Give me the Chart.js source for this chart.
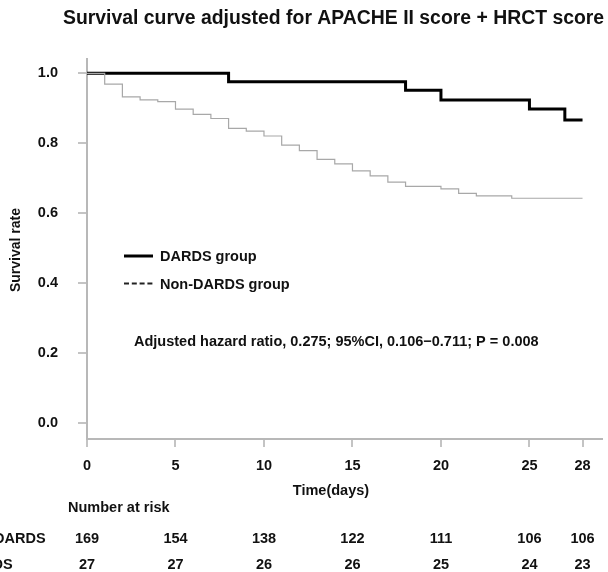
<!DOCTYPE html>
<html>
<head>
<meta charset="utf-8">
<script src="https://cdn.jsdelivr.net/npm/chart.js@4.4.1/dist/chart.umd.min.js"></script>
<style>
  html, body { margin: 0; padding: 0; background: #fff; }
  #wrap { width: 608px; height: 572px; }
</style>
</head>
<body>
<div id="wrap"><canvas id="km"></canvas></div>
<script>
// Kaplan-Meier steps
const dardsDays = [0, 8, 18, 20, 25, 27, 28];
const dardsSurv = [1.0, 0.976, 0.952, 0.924, 0.898, 0.867, 0.867];

const nonDays = [0, 1, 2, 3, 4, 5, 6, 7, 8, 9, 10, 11, 12, 13, 14, 15, 16, 17, 18, 20, 21, 22, 24, 28];
const nonSurv = [1.0, 0.969, 0.933, 0.924, 0.919, 0.898, 0.883, 0.871, 0.843, 0.835, 0.821, 0.795,
  0.779, 0.754, 0.741, 0.721, 0.707, 0.689, 0.677, 0.670, 0.657, 0.650, 0.643, 0.643];

const xTicks = [0, 5, 10, 15, 20, 25, 28];
const yTicks = [0, 0.2, 0.4, 0.6, 0.8, 1.0];

// number at risk table
const riskDays = [0, 5, 10, 15, 20, 25, 28];
const riskNon = [169, 154, 138, 122, 111, 106, 106];
const riskDards = [27, 27, 26, 26, 25, 24, 23];

const FONT = '"Liberation Sans", Arial, sans-serif';
const bold = (px) => 'bold ' + px + 'px ' + FONT;

const toPoints = (xs, ys) => xs.map((x, i) => ({ x: x, y: ys[i] }));

const extras = {
  id: 'extras',
  afterDraw(chart) {
    const { ctx, chartArea } = chart;
    const xs = chart.scales.x;
    ctx.save();
    ctx.fillStyle = '#111';
    ctx.textBaseline = 'alphabetic';

    // title
    ctx.font = bold(19.4);
    ctx.textAlign = 'left';
    ctx.fillText('Survival curve adjusted for APACHE II score + HRCT score', 63, 23.5);

    // y axis title
    ctx.save();
    ctx.translate(20, 250);
    ctx.rotate(-Math.PI / 2);
    ctx.textAlign = 'center';
    ctx.font = bold(14);
    ctx.fillText('Survival rate', 0, 0);
    ctx.restore();

    // x axis title
    ctx.font = bold(14.5);
    ctx.textAlign = 'center';
    ctx.fillText('Time(days)', 331, 495);

    // legend
    const lx = chartArea.left + 37;
    ctx.strokeStyle = '#000';
    ctx.lineWidth = 3;
    ctx.beginPath();
    ctx.moveTo(lx, 256);
    ctx.lineTo(lx + 29, 256);
    ctx.stroke();
    ctx.lineWidth = 2;
    ctx.strokeStyle = '#222';
    ctx.setLineDash([5, 2.8]);
    ctx.beginPath();
    ctx.moveTo(lx, 283.5);
    ctx.lineTo(lx + 29, 283.5);
    ctx.stroke();
    ctx.setLineDash([]);
    ctx.textAlign = 'left';
    ctx.fillText('DARDS group', 160, 261.2);
    ctx.fillText('Non-DARDS group', 160, 288.5);

    // hazard ratio note
    ctx.fillText('Adjusted hazard ratio, 0.275; 95%CI, 0.106\u22120.711; P = 0.008', 134, 346);

    // number at risk
    ctx.fillText('Number at risk', 68, 512.2);
    ctx.fillText('Non-DARDS', -39, 542.5);
    ctx.fillText('DARDS', -39, 568.5);
    ctx.textAlign = 'center';
    riskDays.forEach((d, i) => {
      const px = xs.getPixelForValue(d);
      ctx.fillText(String(riskNon[i]), px, 542.5);
      ctx.fillText(String(riskDards[i]), px, 568.5);
    });
    ctx.restore();
  },
};

new Chart(document.getElementById('km'), {
  type: 'line',
  data: {
    datasets: [
      {
        label: 'Non-DARDS group',
        data: toPoints(nonDays, nonSurv),
        borderColor: '#a8a8a8',
        borderWidth: 1.2,
        stepped: true,
        pointRadius: 0,
      },
      {
        label: 'DARDS group',
        data: toPoints(dardsDays, dardsSurv),
        borderColor: '#000',
        borderWidth: 3,
        stepped: true,
        pointRadius: 0,
      },
    ],
  },
  options: {
    responsive: true,
    maintainAspectRatio: false,
    animation: false,
    layout: { padding: { left: 0, right: 6, top: 59, bottom: 0 } },
    plugins: {
      legend: { display: false },
      title: { display: false },
      tooltip: { enabled: false },
    },
    scales: {
      x: {
        type: 'linear',
        min: 0,
        max: 29.1,
        afterBuildTicks: (scale) => {
          scale.ticks = xTicks.map((v) => ({ value: v }));
        },
        afterFit: (scale) => {
          scale.height = 133;
        },
        grid: {
          drawOnChartArea: false,
          drawTicks: true,
          tickLength: 8,
          color: '#c4c4c4',
          lineWidth: 2,
        },
        border: { color: '#b8b8b8', width: 2 },
        ticks: {
          color: '#111',
          font: { family: FONT, size: 14.5, weight: 'bold' },
          padding: 10,
          maxRotation: 0,
          autoSkip: false,
        },
      },
      y: {
        min: -0.045,
        max: 1.041,
        afterBuildTicks: (scale) => {
          scale.ticks = yTicks.map((v) => ({ value: v }));
        },
        afterFit: (scale) => {
          scale.width = 87;
        },
        grid: {
          drawOnChartArea: false,
          drawTicks: true,
          tickLength: 9,
          color: '#c4c4c4',
          lineWidth: 2,
        },
        border: { color: '#b8b8b8', width: 2 },
        ticks: {
          color: '#111',
          font: { family: FONT, size: 14.5, weight: 'bold' },
          padding: 20,
          callback: (v) => v.toFixed(1),
        },
      },
    },
  },
  plugins: [extras],
});
</script>
</body>
</html>
